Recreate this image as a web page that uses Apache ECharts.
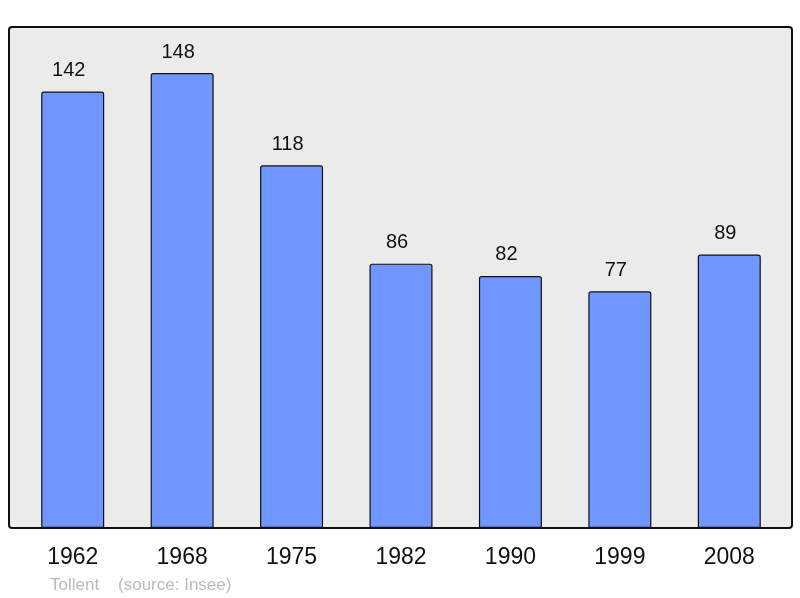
<!DOCTYPE html>
<html>
<head>
<meta charset="utf-8">
<script src="https://cdn.jsdelivr.net/npm/echarts@6/dist/echarts.min.js"></script>
<style>
  html, body { margin: 0; padding: 0; background: #fff; }
  #chart { width: 800px; height: 598px; }
</style>
</head>
<body>
<div id="chart"></div>
<script>
// Population data
const years = ['1962', '1968', '1975', '1982', '1990', '1999', '2008'];
const population = [142, 148, 118, 86, 82, 77, 89];

const FONT = '"Liberation Sans", Arial, sans-serif';

const chart = echarts.init(document.getElementById('chart'), null, { renderer: 'canvas' });

chart.setOption({
  animation: false,
  backgroundColor: '#ffffff',
  title: {
    text: 'Tollent    (source: Insee)',
    left: 45,
    top: 572,
    textStyle: { fontFamily: FONT, fontSize: 17, fontWeight: 'normal', color: '#bbbbbb' }
  },
  graphic: [{
    type: 'rect',
    z: -1,
    silent: true,
    shape: { x: 9, y: 27, width: 783, height: 501, r: 3 },
    style: { fill: '#ebebeb', stroke: '#111111', lineWidth: 2 }
  }],
  grid: { left: 18, width: 766, top: 27, bottom: 70, containLabel: false },
  xAxis: {
    type: 'category',
    data: years,
    axisLine: { show: false },
    axisTick: { show: false },
    axisLabel: { fontFamily: FONT, fontSize: 23, color: '#111111', margin: 18 }
  },
  yAxis: {
    type: 'value',
    min: 0,
    max: 163,
    show: false,
    splitLine: { show: false }
  },
  series: [{
    type: 'bar',
    data: population,
    barWidth: 63,
    itemStyle: {
      color: '#7096ff',
      borderColor: '#111111',
      borderWidth: 1.2,
      borderRadius: [2, 2, 0, 0]
    },
    label: {
      show: true,
      position: 'top',
      distance: 11,
      offset: [-4, 0],
      fontFamily: FONT,
      fontSize: 20,
      color: '#111111'
    }
  }]
});
</script>
</body>
</html>
